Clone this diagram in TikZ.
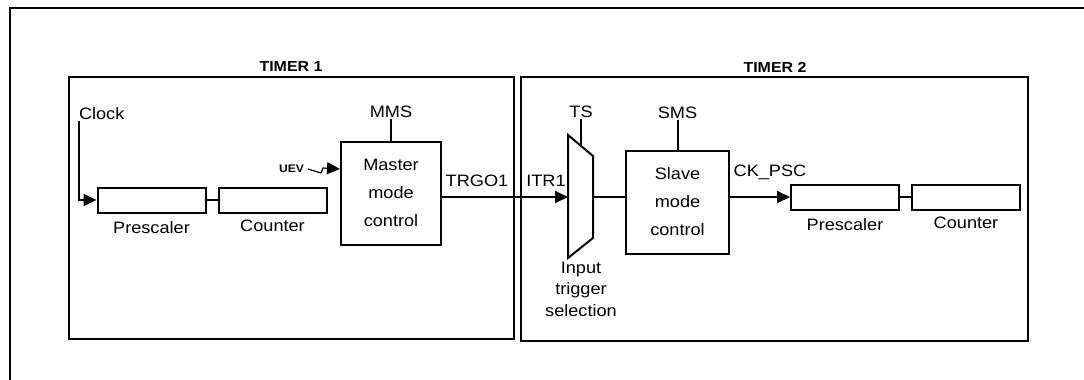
\documentclass[tikz,border=0pt]{standalone}
\usepackage{fontspec}
\setmainfont[FakeStretch=1.1]{Liberation Sans}
\usetikzlibrary{arrows.meta}

\begin{document}
\begin{tikzpicture}[x=1pt,y=-1pt,line width=2pt,
  frm/.style={line width=2.6pt},
  lbl/.style={font=\fontsize{16.5}{28}\selectfont,inner sep=0pt},
  ttl/.style={font=\fontsize{14.5}{16}\selectfont\bfseries,inner sep=0pt},
  reg/.style={draw,rectangle,minimum width=108pt,minimum height=25pt,inner sep=0pt},
  ctl/.style={draw,rectangle,lbl,align=center,minimum width=#1pt,minimum height=103pt},
  sig/.style={-{Triangle[length=13pt,width=12pt]}}]
\useasboundingbox (0,0) rectangle (1084,380);
% frames
\draw[frm] (1084,8) -- (10,8) -- (10,380);
\draw[frm] (69,77) rectangle (514,339);
\draw[frm] (521,77) rectangle (1028,341);
\node[ttl] (t1) at (291,67) {TIMER 1};
\node[ttl] (t2) at (775,67) {TIMER 2};
% prescaler + counter chains
\foreach \n/\x/\y in {A/151.5/200,B/845/197} {
   \node[reg] (psc\n) at (\x,\y) {};
   \node[reg] (cnt\n) at (\x+121,\y) {};
   \draw (psc\n) -- (cnt\n);
   \node[lbl,anchor=north] (lpsc\n) at ([yshift=-7pt]psc\n.south) {Prescaler};
   \node[lbl,anchor=north] (lcnt\n) at ([yshift=-5pt]cnt\n.south) {Counter};
}
% timer 1
\node[lbl,anchor=west] (clk) at (78,114) {Clock};
\draw[sig] ([xshift=1pt]clk.south west) |- (pscA.west);
\node[ctl=100] (mmc) at (391,193) {Master\\mode\\control};
\node[lbl] (mms) at (391,112) {MMS};
\draw (mms.south) -- (mmc.north);
\node[font=\fontsize{11}{12}\selectfont\bfseries,inner sep=0pt,anchor=east] (uev) at (305,169) {UEV};
\draw[sig,line width=1.2pt] (uev.east) ++(3,0) -- ++(13,4) -- ++(2,-5) -- (mmc.west |- uev);
\node[lbl] (trgo) at (477,181) {TRGO1};
% timer 2
\coordinate (muxin) at (568,197);
\coordinate (muxout) at (593,197);
\coordinate (tsend) at (581,146);
\draw (568,135) -- (593,156) -- (593,238) -- (568,258) -- cycle;
\node[lbl] (ts) at (581,112) {TS};
\draw (ts.south) -- (tsend);
\node[lbl] (itr) at (546,181) {ITR1};
\draw[sig] (mmc.east |- muxin) -- (muxin);
\node[lbl,font=\fontsize{16.5}{21.5}\selectfont,align=center] (its) at (581,289) {Input\\trigger\\selection};
\node[ctl=103] (slv) at (677.5,202) {Slave\\mode\\control};
\node[lbl] (sms) at (677.5,113) {SMS};
\draw (sms.south) -- (slv.north);
\draw (muxout) -- (muxout -| slv.west);
\node[lbl] (ckpsc) at (770,172) {CK\_PSC};
\draw[sig] (slv.east |- pscB.west) -- (pscB.west);
\end{tikzpicture}
\end{document}
